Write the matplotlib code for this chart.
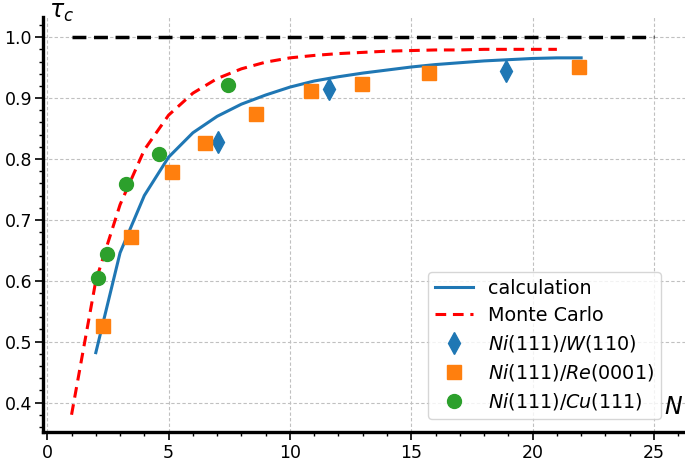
import numpy as np
import matplotlib
matplotlib.use("Agg")
import matplotlib.pyplot as plt
from matplotlib.ticker import MultipleLocator

# calculation (solid blue)
calc_N = [2, 3, 4, 5, 6, 7, 8, 9, 10, 11, 12, 13, 14, 15, 16, 17, 18, 19, 20, 21, 22]
calc_tau = [0.482, 0.646, 0.74, 0.803, 0.843, 0.870, 0.890, 0.905, 0.918, 0.928,
            0.935, 0.941, 0.946, 0.951, 0.955, 0.958, 0.961, 0.963, 0.965, 0.966, 0.966]

# Monte Carlo (dashed red)
mc_N = [1, 2, 3, 4, 5, 6, 7, 8, 9, 10, 11, 12, 13, 14, 15, 16, 17, 18, 19, 20, 21]
mc_tau = [0.38, 0.60, 0.725, 0.815, 0.872, 0.908, 0.932, 0.948, 0.959, 0.966, 0.970,
          0.973, 0.975, 0.977, 0.978, 0.979, 0.979, 0.980, 0.980, 0.980, 0.980]

# reference level
ref_N = [1, 25]
ref_tau = [1.0, 1.0]

# experiments
w_N = [7.05, 11.6, 18.9]
w_tau = [0.828, 0.915, 0.944]

re_N = [2.3, 3.46, 5.15, 6.48, 8.6, 10.88, 12.98, 15.74, 21.9]
re_tau = [0.526, 0.672, 0.779, 0.826, 0.874, 0.912, 0.923, 0.941, 0.951]

cu_N = [2.1, 2.48, 3.25, 4.6, 7.45]
cu_tau = [0.605, 0.644, 0.759, 0.808, 0.921]

fig = plt.figure(figsize=(6.85, 4.61), dpi=100)
ax = fig.add_axes([0.063, 0.062, 0.937, 0.901])

ax.plot(ref_N, ref_tau, 'k--', linewidth=2.5, dashes=(4, 2.2))
ax.plot(calc_N, calc_tau, color='#1f77b4', linewidth=2.2, label='calculation')
ax.plot(mc_N, mc_tau, color='red', linestyle='--', linewidth=2.2, dashes=(3.5, 2.2),
        label='Monte Carlo')
ax.plot(w_N, w_tau, 'd', color='#1f77b4', markersize=11, linestyle='none',
        label=r'$Ni(111)/W(110)$')
ax.plot(re_N, re_tau, 's', color='#ff7f0e', markersize=10, linestyle='none',
        label=r'$Ni(111)/Re(0001)$')
ax.plot(cu_N, cu_tau, 'o', color='#2ca02c', markersize=10, linestyle='none',
        label=r'$Ni(111)/Cu(111)$')

ax.set_xlim(-0.17, 26.28)
ax.set_ylim(0.351, 1.033)

ax.xaxis.set_major_locator(MultipleLocator(5))
ax.xaxis.set_minor_locator(MultipleLocator(1))
ax.yaxis.set_major_locator(MultipleLocator(0.1))
ax.yaxis.set_minor_locator(MultipleLocator(0.02))

for s in ['top', 'right']:
    ax.spines[s].set_visible(False)
for s in ['left', 'bottom']:
    ax.spines[s].set_linewidth(2.4)

ax.tick_params(which='major', length=6, width=1.2, labelsize=12.5, pad=2)
ax.tick_params(which='minor', length=3, width=1)
ax.grid(True, linestyle=(0, (3, 2)), color='#c0c0c0', linewidth=0.8)

ax.text(0.09, 0.975, r'$\tau_c$', transform=fig.transFigure, fontsize=17,
        ha='center', va='center')
ax.text(25.8, 0.393, r'$N$', fontsize=17, ha='center', va='center')

ax.legend(loc='lower right', fontsize=13.8, bbox_to_anchor=(0.978, 0.01),
          handlelength=2.0, borderpad=0.35, labelspacing=0.42)

fig.savefig('out.png', dpi=100)
